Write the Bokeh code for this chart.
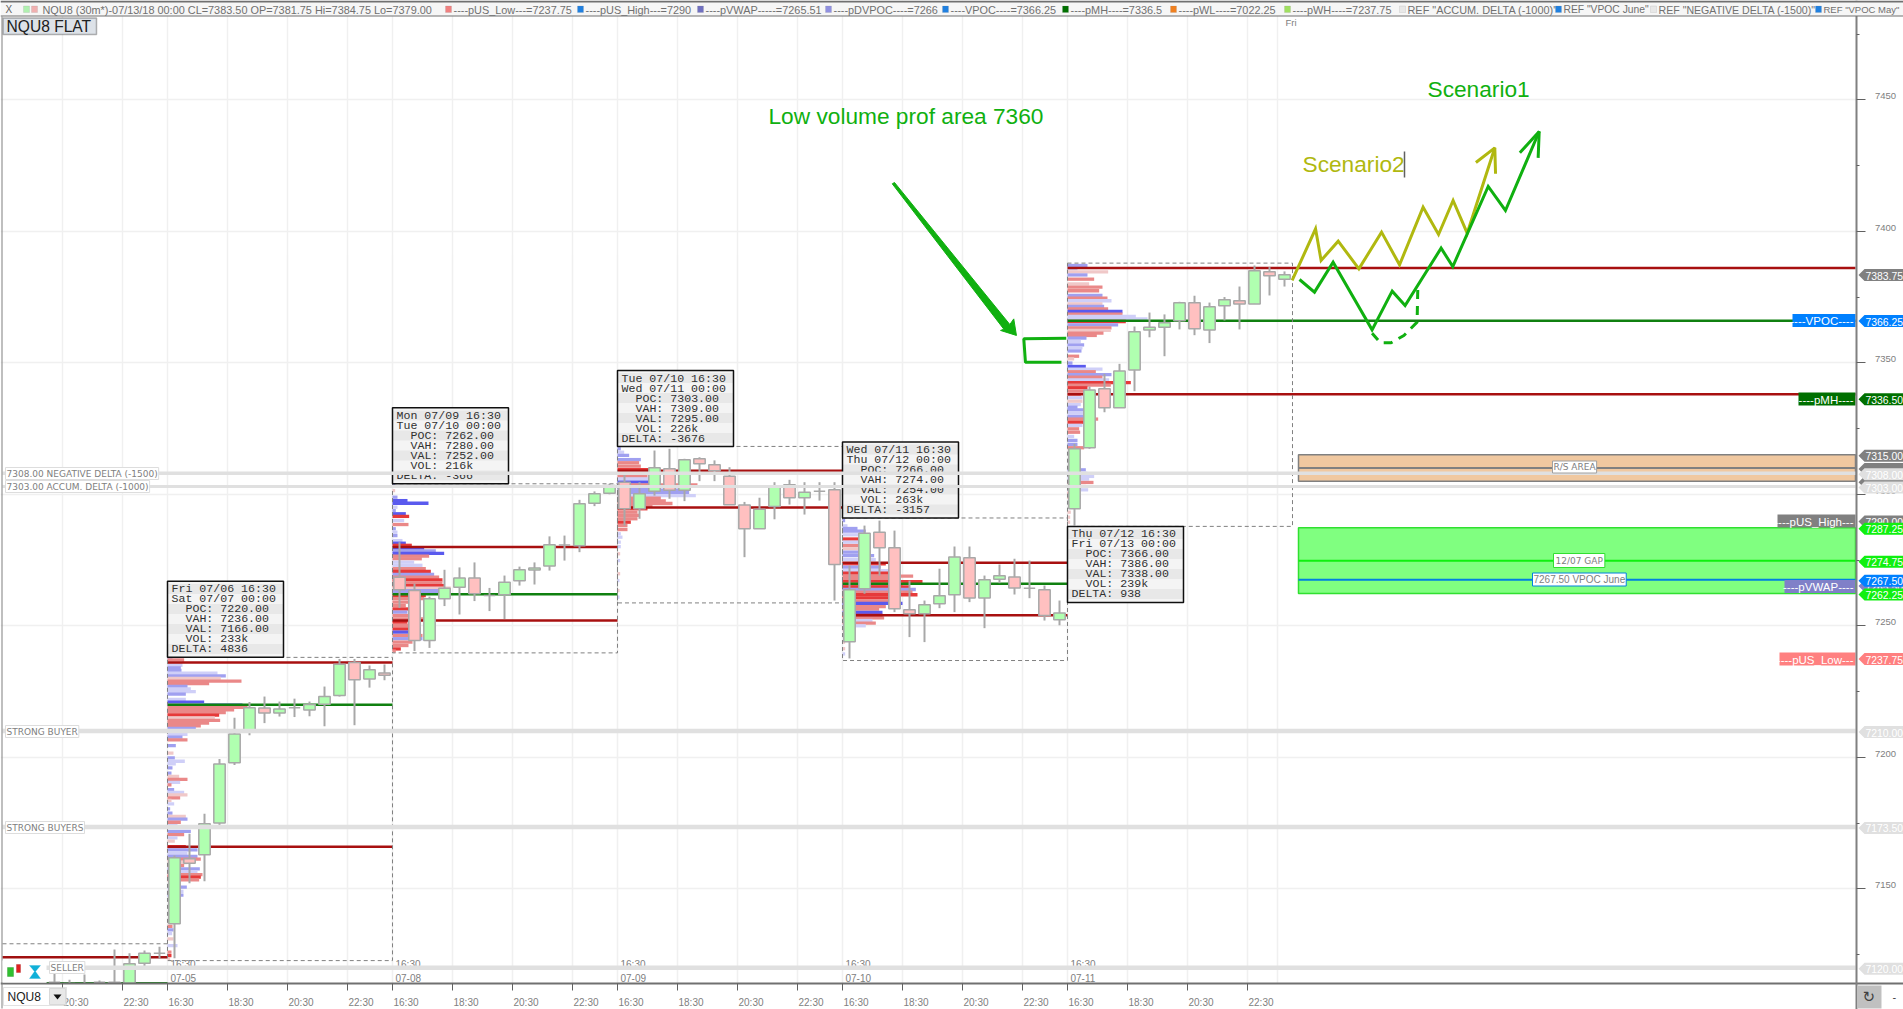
from bokeh.plotting import figure
from bokeh.models import (FixedTicker, Label, PolyAnnotation, ColumnDataSource, Range1d, LinearAxis)
from bokeh.core.properties import value
from bokeh.embed import file_html
from bokeh.resources import INLINE

# ---------- candles: one list per session, bar index 0 = session start ----------
s0_o = [7114.5, 7114.0, 7112.0, 7114.5, 7114.1, 7114.1, 7121.7, 7125.5]
s0_h = [7117.7, 7115.4, 7117.4, 7115.1, 7126.9, 7125.5, 7126.5, 7128.0]
s0_l = [7110.0, 7110.0, 7110.0, 7112.0, 7112.0, 7110.0, 7120.2, 7123.4]
s0_c = [7114.5, 7114.0, 7113.0, 7114.5, 7114.5, 7121.5, 7125.5, 7125.5]

s1_o = [7136.68,7161.4,7162.9,7175.0,7197.9,7209.6,7218.7,7216.8,7218.8,7218.0,7220.2,7223.5,7236.0,7229.8,7232.1]
s1_h = [7162.67,7170.9,7178.5,7199.4,7215.0,7221.0,7223.1,7221.2,7222.3,7221.2,7226.9,7237.4,7237.4,7234.9,7235.3]
s1_l = [7123.63,7152.15,7152.9,7173.4,7197.1,7208.4,7213.0,7215.5,7215.3,7215.6,7211.8,7223.1,7212.2,7226.5,7229.3]
s1_c = [7161.78,7159.75,7174.7,7197.5,7208.9,7218.8,7216.8,7218.4,7218.8,7220.1,7223.1,7235.4,7229.5,7233.3,7231.2]

s2_o = [7268.5,7263.4,7244.4,7260.25,7264.7,7268.2,7261.5,7261.8,7267.1,7271.2,7272.7,7280.7,7280.4,7296.6,7300.4]
s2_h = [7281.8,7266.0,7261.1,7271.3,7272.2,7274.1,7264.4,7269.1,7272.5,7274.1,7284.0,7284.3,7297.9,7301.1,7304.0]
s2_l = [7256.8,7240.4,7241.6,7257.5,7254.3,7259.4,7255.6,7252.6,7265.3,7265.7,7271.0,7274.8,7278.0,7295.5,7300.0]
s2_c = [7263.7,7244.4,7260.25,7264.3,7268.2,7262.2,7261.5,7266.6,7271.3,7272.0,7280.8,7280.7,7296.4,7300.2,7303.3]

s3_o = [7304.6,7294.5,7301.2,7309.7,7301.5,7313.5,7311.2,7306.9,7295.9,7286.9,7295.4,7303.6,7298.7,7301.2,7301.7]
s3_h = [7308.4,7304.6,7316.65,7317.3,7313.5,7314.1,7312.9,7310.3,7297.1,7298.7,7304.6,7305.5,7304.6,7304.6,7304.6]
s3_l = [7288.1,7290.7,7299.5,7298.3,7297.4,7305.0,7305.0,7296.0,7276.1,7286.9,7290.5,7296.1,7292.3,7297.6,7259.6]
s3_c = [7294.5,7300.2,7310.1,7301.5,7313.1,7311.6,7309.0,7296.0,7286.9,7294.3,7302.7,7298.7,7300.8,7301.2,7273.3]

s4_o = [7243.9,7264.1,7285.6,7279.65,7256.1,7254.6,7258.35,7261.8,7275.85,7260.6,7267.7,7268.6,7264.3,7263.7,7252.3]
s4_h = [7272.9,7288.1,7290.0,7286.2,7267.2,7259.6,7271.7,7280.15,7280.15,7269.1,7273.3,7275.5,7274.8,7265.3,7259.6]
s4_l = [7237.6,7262.2,7269.1,7255.2,7245.7,7243.8,7256.7,7255.2,7259.0,7249.1,7266.2,7261.9,7260.5,7252.0,7250.2]
s4_c = [7263.7,7285.2,7279.65,7256.45,7254.6,7258.0,7261.4,7276.2,7260.6,7267.5,7269.0,7264.4,7264.3,7253.9,7254.9]

s5_o = [7294.5,7317.7,7340.1,7332.9,7347.3,7362.5,7363.5,7366.0,7372.8,7362.5,7371.7,7373.6,7372.4,7384.6,7381.75]
s5_h = [7319.2,7341.0,7345.8,7349.6,7363.8,7369.1,7368.4,7373.2,7375.5,7372.9,7375.0,7379.0,7387.0,7386.4,7384.75]
s5_l = [7288.1,7317.3,7331.2,7332.9,7339.2,7359.7,7352.5,7362.7,7360.5,7357.5,7366.1,7362.7,7372.4,7375.6,7379.0]
s5_c = [7317.3,7339.7,7332.9,7346.9,7361.8,7363.5,7365.2,7372.8,7362.9,7371.3,7374.0,7372.4,7385.0,7383.1,7383.5]

sessions_first_bar = [0, 15, 30, 45, 60]

# ---------- volume profile rows (price, length, colour class) ----------
s1_rows = [(7238,15,'m'),(7237,50,'s'),(7236,44,'p'),(7235,45,'l'),(7234,40,'m'),(7233,42,'m'),(7232,150,'l'),(7231,175,'m'),(7230,160,'p'),(7229,222,'s'),(7228,125,'s'),(7227,60,'m'),(7226,70,'l'),(7225,85,'l'),(7224,55,'m'),(7222,55,'l'),(7221,110,'B'),(7220,225,'m'),(7219,240,'s'),(7218,200,'s'),(7217,175,'s'),(7216,155,'r'),(7215,142,'p'),(7214,158,'s'),(7213,125,'s'),(7212,100,'s'),(7211,85,'m'),
 (7208.7,60,'l'),(7207.7,45,'m'),(7206.6,60,'s'),(7204.4,25,'m'),(7201.6,18,'p'),(7199.8,22,'m'),(7198.5,52,'l'),(7197.5,25,'l'),(7196,15,'m'),(7194,12,'m'),(7192.7,35,'p'),(7191.6,60,'s'),(7190.5,38,'l'),(7189.5,12,'s'),(7187.7,20,'m'),(7186.7,50,'l'),(7185.7,60,'p'),(7184.6,38,'s'),(7183.6,12,'p'),(7182.3,20,'l'),(7180.4,8,'m'),(7178.8,15,'m'),(7177.5,55,'p'),(7176.5,60,'m'),(7175.3,40,'s'),(7174,30,'l'),(7171.8,70,'m'),(7170.6,50,'s'),(7169.4,30,'l'),(7168.1,22,'p'),(7166,55,'r'),(7164.8,90,'m'),(7163.5,60,'l'),(7162.3,90,'m'),(7161.3,100,'s'),(7160,60,'p'),(7158.8,50,'s'),(7157.6,97,'m'),(7156.3,90,'l'),(7155.4,105,'s'),(7154.4,100,'r'),(7153.4,95,'s'),(7150.6,58,'m'),(7149,48,'l'),(7147.6,48,'m'),(7135.7,15,'s'),(7134.4,18,'m'),(7133,14,'l'),(7131,18,'p'),(7128.4,30,'l'),(7125.9,12,'s'),(7124.6,12,'r'),(7123.4,8,'p')]
s2_rows = [(7303.3,8,'m'),(7301.4,8,'p'),(7298.9,15,'m'),(7297.6,45,'B'),(7296.6,108,'B'),(7295.1,15,'l'),(7293.8,10,'m'),(7292.6,40,'B'),(7291.6,50,'r'),(7290,35,'l'),(7288.5,48,'s'),(7286.9,10,'m'),(7285.6,15,'l'),(7284.3,15,'m'),(7282.4,30,'l'),(7281.4,40,'B'),(7280.6,58,'r'),(7279.5,95,'B'),(7278.5,130,'m'),(7277.5,155,'B'),(7276.5,110,'s'),(7275.5,88,'s'),(7274.2,65,'l'),(7273,90,'l'),(7271.7,100,'s'),(7270.7,115,'r'),(7269.5,125,'m'),(7268.5,140,'s'),(7267.5,150,'r'),(7266.3,150,'s'),(7265.3,155,'r'),(7264.3,175,'p'),(7263.4,140,'m'),(7262.5,170,'m'),(7261.5,100,'r'),(7260.3,95,'s'),(7259,50,'s'),(7257.7,40,'s'),(7256.4,50,'r'),(7255.2,45,'m'),(7253.9,60,'s'),(7252.6,110,'s'),(7251.4,45,'r'),(7250.1,50,'s'),(7248.8,85,'r'),(7247.6,85,'B'),(7246.3,90,'s'),(7245.1,90,'m'),(7243.8,60,'s'),(7242.5,48,'s'),(7241.2,25,'r'),(7240.4,10,'s')]
s3_rows = [(7317.3,10,'m'),(7316,20,'l'),(7314.8,35,'m'),(7313.2,70,'m'),(7312,65,'s'),(7310.7,70,'s'),(7309.4,100,'r'),(7308.2,70,'p'),(7306.9,90,'s'),(7305.9,130,'l'),(7304.6,120,'B'),(7303.6,240,'s'),(7302.6,130,'m'),(7301.6,190,'m'),(7300.6,215,'m'),(7299.5,235,'l'),(7298.5,130,'s'),(7297.5,145,'s'),(7296.5,165,'s'),(7295.5,105,'s'),(7294.5,90,'r'),(7293.2,60,'s'),(7292,65,'s'),(7290.7,60,'s'),(7289.4,40,'r'),(7288.1,30,'s'),(7286.6,30,'s'),(7285,10,'l'),(7283.7,15,'l'),(7281.8,10,'l'),(7280.1,10,'l'),(7277.4,8,'p'),(7274.8,8,'l'),(7269.8,8,'p'),(7267.2,6,'l'),(7263.4,6,'p'),(7260.9,6,'l')]
s4_rows = [(7290,8,'m'),(7288,15,'l'),(7287,45,'m'),(7286,70,'m'),(7284.6,80,'l'),(7283,50,'r'),(7281.8,60,'l'),(7280.5,50,'s'),(7279.3,60,'p'),(7278,75,'m'),(7276.7,95,'m'),(7275.2,100,'l'),(7273.6,130,'r'),(7272.3,115,'m'),(7271,140,'l'),(7270,150,'r'),(7268.9,212,'s'),(7267.9,150,'s'),(7266.8,240,'r'),(7265.8,180,'s'),(7264.8,200,'r'),(7263.8,220,'m'),(7262.8,210,'s'),(7261.8,225,'r'),(7260.6,160,'r'),(7259.5,150,'s'),(7258.5,180,'B'),(7257.3,130,'s'),(7256.3,110,'s'),(7255.1,120,'B'),(7254,120,'r'),(7253,125,'s'),(7252,90,'l'),(7251,100,'s'),(7250,70,'l'),(7248.5,30,'p'),(7246.3,15,'l'),(7243.8,8,'p'),(7241.3,8,'p'),(7239.3,8,'l')]
s5_rows = [(7387,60,'m'),(7385.7,30,'l'),(7384.6,122,'p'),(7383.4,60,'m'),(7381.8,80,'s'),(7380,65,'p'),(7378.8,105,'s'),(7377.4,95,'s'),(7375.6,105,'m'),(7374.6,120,'s'),(7373.6,132,'l'),(7372.4,105,'p'),(7371.4,110,'m'),(7370.5,122,'s'),(7369.5,165,'B'),(7368.5,165,'s'),(7367.6,205,'l'),(7366.7,240,'l'),(7365.7,175,'r'),(7364.4,152,'m'),(7363.3,132,'s'),(7362.3,130,'p'),(7361.3,108,'s'),(7360.4,88,'s'),(7359.4,57,'m'),(7358.1,40,'l'),(7356.8,50,'m'),(7355.7,45,'l'),(7354.5,42,'m'),(7352.5,35,'s'),(7351.5,20,'p'),(7349.9,15,'m'),(7348.6,55,'B'),(7347.6,105,'l'),(7346.6,85,'s'),(7345.5,132,'m'),(7344.5,105,'s'),(7343.5,125,'l'),(7342.5,190,'r'),(7341.5,130,'s'),(7340.5,60,'r'),(7339.2,60,'s'),(7338,40,'s'),(7336.7,45,'l'),(7335.4,45,'p'),(7334.1,40,'l'),(7333.1,30,'m'),(7332.1,50,'m'),(7330.9,60,'l'),(7329.6,70,'m'),(7328.6,92,'s'),(7327.4,50,'r'),(7326.2,45,'l'),(7324.9,35,'s'),(7323.6,38,'s'),(7322,20,'l'),(7320.5,30,'m'),(7319,30,'m'),(7317.7,50,'s'),(7309.3,55,'m'),(7308,60,'l'),(7306.8,80,'l'),(7305.8,65,'l'),(7304.5,78,'s'),(7303,55,'p'),(7301.7,62,'l'),(7300.4,35,'s'),(7298.9,40,'s'),(7297,15,'l'),(7293.2,10,'p'),(7291.3,8,'p'),(7289.4,8,'p')]

# ---------- session statistics ----------
s_start = ["Fri 07/06 16:30","Mon 07/09 16:30","Tue 07/10 16:30","Wed 07/11 16:30","Thu 07/12 16:30"]
s_end   = ["Sat 07/07 00:00","Tue 07/10 00:00","Wed 07/11 00:00","Thu 07/12 00:00","Fri 07/13 00:00"]
s_poc   = [7220, 7262, 7303, 7266, 7366]
s_vah   = [7236, 7280, 7309, 7274, 7386]
s_val   = [7166, 7252, 7295, 7254, 7338]
s_vol   = ["233k","216k","226k","263k","239k"]
s_delta = ["4836","-366","-3676","-3157","938"]
s_high  = [7238.0, 7304.0, 7318.2, 7291.0, 7387.9]
s_low   = [7122.7, 7239.7, 7258.7, 7236.8, 7287.8]

# ---------- levels ----------
grey_levels = [7308, 7303, 7210, 7173.5, 7120]
grey_widths = [3.5, 3, 4.5, 4.5, 4.5]

tag_values = [7383.75,7366.25,7336.50,7315.00,7310.00,7305.00,7308.00,7303.00,7290.00,7287.25,7274.75,7265.50,7267.50,7262.25,7237.75,7210.00,7173.50,7120.00]
tag_colors = ["#808080","#0080ff","#007000","#808080","#808080","#808080","#e0e0e0","#e0e0e0","#808080","#10f010","#10f010","#8080c8","#0080ff","#10f010","#ff8080","#e0e0e0","#e0e0e0","#e0e0e0"]

side_names  = ["----VPOC----","----pMH----","----pUS_High---","----pVWAP----","----pUS_Low---"]
side_prices = [7366.25, 7336.5, 7290.0, 7265.5, 7237.75]
side_colors = ["#0080ff","#007000","#808080","#8080c8","#ff8080"]

# ---------- hand drawings (bar index, price) ----------
sc2_x = [74.51,76.07,76.44,77.58,78.96,80.47,81.67,83.24,84.27,85.24,86.18,88.02]
sc2_y = [7381.30,7400.94,7388.90,7396.26,7385.74,7399.68,7387.26,7409.18,7398.79,7411.72,7399.30,7431.74]
sc2_head_x = [86.76,88.02,88.07]
sc2_head_y = [7426.17,7431.74,7421.86]
sc1_x = [75.0,76.0,77.24,79.84,81.18,82.04,84.44,85.22,87.58,88.73,90.98]
sc1_y = [7381.68,7376.87,7388.27,7362.54,7377.24,7371.79,7393.59,7386.62,7417.04,7407.92,7437.95]
sc1_head_x = [89.69,90.98,90.91]
sc1_head_y = [7429.84,7437.95,7427.94]
alt_x = [79.84,80.4,81.11,81.96,82.84,82.89]
alt_y = [7361.27,7357.6,7357.6,7360.39,7365.46,7379.4]
arrow_x = [47.85,48.0,55.69,55.95,56.13,55.07,55.29]
arrow_y = [7418.06,7418.56,7364.56,7366.7,7360.4,7362.3,7362.78]
bracket_x = [59.45,56.62,56.73,59.13]
bracket_y = [7359.35,7359.1,7350.2,7350.2]

header_segments = [
 (42,  None,      "NQU8 (30m*)-07/13/18 00:00 CL=7383.50 OP=7381.75 Hi=7384.75 Lo=7379.00", "10.9px"),
 (453, "#f08080", "----pUS_Low---=7237.75", "10.9px"),
 (585, "#2080e0", "----pUS_High---=7290", "10.9px"),
 (705, "#7070c0", "----pVWAP-----=7265.51", "10.9px"),
 (833, "#9090e0", "----pDVPOC----=7266", "10.9px"),
 (950, "#2080e0", "----VPOC----=7366.25", "10.9px"),
 (1070,"#007000", "----pMH----=7336.5", "10.9px"),
 (1178,"#f08020", "----pWL----=7022.25", "10.9px"),
 (1292,"#a0e060", "----pWH----=7237.75", "10.9px"),
 (1407,"#e8e8e8", 'REF "ACCUM. DELTA (-1000)"', "10.9px"),
 (1563,"#2080e0", 'REF "VPOC June"', "10.3px"),
 (1658,"#e8e8e8", 'REF "NEGATIVE DELTA (-1500)"', "10.6px"),
 (1823,"#2080e0", 'REF "VPOC May"', "9.5px"),
]

# ---------- scales: reference pixel <-> data ----------
BAR_PX = 15.0
PT_PX = 2.63
def ix(px): return (px - 174.0) / BAR_PX
def pr(py): return 7350.0 - (py - 362.3) / PT_PX
LEFT = -0.467   # bar slot left edge relative to its centre

p = figure(width=1903, height=1009, x_range=Range1d(ix(0), ix(1903)), y_range=Range1d(pr(1009), pr(0)),
           x_axis_location="below", y_axis_location="right", output_backend="svg", toolbar_location=None,
           min_border_left=0, min_border_right=0, min_border_top=0, min_border_bottom=0,
           outline_line_color=None, background_fill_color="white", border_fill_color="white")

# axes sit at fixed places; captions sit beside their ticks, so the tick marks are minor ticks
ticks = []; names = []
for base, off, name in [(-15,8,"20:30"),(-15,12,"22:30")]:
    ticks.append(base + off + LEFT); names.append(name)
for b in sessions_first_bar:
    for off, name in [(0,"16:30"),(4,"18:30"),(8,"20:30"),(12,"22:30")]:
        ticks.append(b + off + LEFT); names.append(name)
xa = p.xaxis[0]
xa.fixed_location = pr(983.3)
xa.ticker = FixedTicker(ticks=[], minor_ticks=ticks)
xa.major_tick_line_color = None; xa.major_tick_in = 0; xa.major_tick_out = 0
xa.minor_tick_in = 0; xa.minor_tick_out = 7; xa.minor_tick_line_color = "#606060"
xa.axis_line_color = "#707070"; xa.axis_line_width = 2

y_major = [7150,7200,7250,7300,7350,7400,7450]
y_minor = [7125,7175,7225,7275,7325,7375,7425,7475]
Y_SHIFT = 3.6 / PT_PX
y_label_ticks = [v + Y_SHIFT for v in y_major]
ya = p.yaxis[0]
ya.fixed_location = ix(1855.5)
ya.ticker = FixedTicker(ticks=y_label_ticks, minor_ticks=y_major)
ya.major_label_overrides = dict(zip(y_label_ticks, [str(v) for v in y_major]))
ya.major_label_text_font = "Liberation Sans"; ya.major_label_text_font_size = "9.5px"; ya.major_label_text_color = "#808080"
ya.major_label_standoff = 10
ya.major_tick_line_color = None; ya.major_tick_in = 0; ya.major_tick_out = 0
ya.minor_tick_in = 0; ya.minor_tick_out = 9; ya.minor_tick_line_color = "#606060"
ya.axis_line_color = "#808080"; ya.axis_line_width = 2
yb = LinearAxis(fixed_location=ix(1855.5), ticker=FixedTicker(ticks=[], minor_ticks=y_minor), axis_line_color=None,
                major_tick_line_color=None, minor_tick_in=0, minor_tick_out=3, minor_tick_line_color="#606060")
p.add_layout(yb, "right")

p.xgrid.ticker = FixedTicker(ticks=ticks + [60 + 14 + LEFT])
p.xgrid.grid_line_color = "#f0f0f0"; p.xgrid.grid_line_width = 1.5
p.ygrid.ticker = FixedTicker(ticks=y_major)
p.ygrid.grid_line_color = "#f0f0f0"; p.ygrid.grid_line_width = 1.5

# white margins beyond the axes hide the grid
p.quad(left=ix(1856), right=ix(1903), top=pr(0), bottom=pr(1009), fill_color="white", line_color=None)
p.quad(left=ix(0), right=ix(1903), top=pr(983), bottom=pr(1009), fill_color="white", line_color=None)

# zones on the right
Z_L = ix(1298)
p.quad(left=Z_L, right=ix(1855), top=7315, bottom=7305, fill_color="#f0c8a0", line_color="#808080", line_width=1.5)
p.segment(x0=Z_L, x1=ix(1855), y0=7310, y1=7310, line_color="#808080", line_width=2)
p.quad(left=Z_L, right=ix(1855), top=7287.25, bottom=7262.25, fill_color="#80ff80", line_color="#30e030", line_width=1.5)
p.segment(x0=Z_L, x1=ix(1855), y0=7274.75, y1=7274.75, line_color="#10f010", line_width=2)
p.segment(x0=Z_L, x1=ix(1855), y0=7267.5, y1=7267.5, line_color="#0080e0", line_width=2)

# profiles
COL = {'l':'#cfcff8','m':'#a0a0f0','B':'#5a5aee','p':'#f0c8c8','s':'#ea8888','r':'#e63a3a'}
for b, rows in zip(sessions_first_bar, [s1_rows,s2_rows,s3_rows,s4_rows,s5_rows]):
    L = b + LEFT
    p.hbar(y=[r[0] for r in rows], left=L, right=[L + r[1]/45.0 for r in rows], height=1.25,
           fill_color=[COL[r[2]] for r in rows], line_color=None)

# previous session remainder
p.segment(x0=ix(2), x1=LEFT, y0=7124, y1=7124, line_color="#a01010", line_width=2.5)
p.segment(x0=ix(46), x1=LEFT, y0=7114.1, y1=7114.1, line_color="#108010", line_width=2.5)

# value area / POC lines and dashed boxes
n = len(sessions_first_bar)
for i, b in enumerate(sessions_first_bar):
    L = b + LEFT
    R = L + 15 if i < n-1 else ix(1855)
    p.segment(x0=[L,L], x1=[R,R], y0=[s_vah[i],s_val[i]], y1=[s_vah[i],s_val[i]], line_color="#a81010", line_width=2.5)
    p.segment(x0=L, x1=R, y0=s_poc[i], y1=s_poc[i], line_color="#108010", line_width=2.5)
    p.quad(left=L, right=L+15, top=s_high[i], bottom=s_low[i], fill_color=None, line_color="#808080", line_width=1, line_dash="4 3")
p.segment(x0=ix(2), x1=LEFT, y0=7129.1, y1=7129.1, line_color="#808080", line_width=1, line_dash="4 3")

# session-open time labels under grey line and date labels
for b, d in zip(sessions_first_bar, ["07-05","07-08","07-09","07-10","07-11"]):
    p.text(x=[b+LEFT], y=[pr(964)], text=["16:30"], text_font=value("Liberation Sans"), text_font_size="10px", text_color="#808080", x_offset=3, text_baseline="middle")
    p.text(x=[b+LEFT], y=[pr(977)], text=[d], text_font=value("Liberation Sans"), text_font_size="10px", text_color="#808080", x_offset=3, text_baseline="middle")

# candles
def candles(first, o, h, l, c):
    xs = [first+k for k in range(len(o))]
    src = ColumnDataSource(dict(x=xs, h=h, l=l, t=[max(a,b) for a,b in zip(o,c)], b=[min(a,b) for a,b in zip(o,c)],
                                f=["#b0ffb0" if cc >= oo else "#ffc0c0" for oo,cc in zip(o,c)]))
    p.segment(x0="x", x1="x", y0="l", y1="h", source=src, line_color="#a8a8a8", line_width=2)
    p.vbar(x="x", width=0.76, top="t", bottom="b", source=src, fill_color="f", line_color="#a8a8a8", line_width=1.5)
candles(-8, s0_o, s0_h, s0_l, s0_c)
for b, (o,h,l,c) in zip(sessions_first_bar, [(s1_o,s1_h,s1_l,s1_c),(s2_o,s2_h,s2_l,s2_c),(s3_o,s3_h,s3_l,s3_c),(s4_o,s4_h,s4_l,s4_c),(s5_o,s5_h,s5_l,s5_c)]):
    candles(b, o, h, l, c)
# the chart stops at the axis: hide what falls below it again
p.quad(left=ix(0), right=ix(1856), top=pr(983), bottom=pr(1009), fill_color="white", line_color=None)

# time captions beside the axis ticks
p.text(x=ticks, y=[pr(1002)]*len(ticks), text=names, text_font=value("Liberation Sans"), text_font_size="10px",
       text_color="#808080", text_align="left", text_baseline="middle", x_offset=1)

# session info boxes
ROW = 10.0 / PT_PX
BOX_H = 76.0 / PT_PX
W = 116 / BAR_PX
anchor_bottom = [s_high[0], s_high[1], s_high[2], s_high[3], s_low[4] - BOX_H]
for i, b in enumerate(sessions_first_bar):
    L = b + LEFT
    bot = anchor_bottom[i]
    top = bot + BOX_H
    p.quad(left=L, right=L+W, top=top, bottom=bot, fill_color="#f4f4f4", line_color=None)
    lines = [s_start[i], s_end[i], f"POC: {s_poc[i]}.00", f"VAH: {s_vah[i]}.00", f"VAL: {s_val[i]}.00", f"VOL: {s_vol[i]}", f"DELTA: {s_delta[i]}"]
    ys = [top - 7.6/PT_PX - k*ROW for k in range(7)]
    p.quad(left=L, right=L+W, top=[y+ROW/2 for y in ys[::2]], bottom=[y-ROW/2 for y in ys[::2]], fill_color="#e8e8e8", line_color=None)
    p.text(x=L, y=ys, text=lines, x_offset=[4,4,18,18,18,18,4], text_font=value("Liberation Mono"), text_font_size="11.6px",
           text_color="#303030", text_baseline="middle")
    p.quad(left=L, right=L+W, top=top, bottom=bot, fill_color=None, line_color="#101010", line_width=1.5)

# grey reference lines
for lv, w in zip(grey_levels, grey_widths):
    p.segment(x0=ix(2), x1=ix(1855), y0=lv, y1=lv, line_color="#e0e0e0", line_width=w)

# drawings
GREEN = "#10b010"; OLIVE = "#b0b810"
p.line(sc2_x, sc2_y, line_color=OLIVE, line_width=3, line_join="miter")
p.line(sc2_head_x, sc2_head_y, line_color=OLIVE, line_width=3)
p.line(sc1_x, sc1_y, line_color=GREEN, line_width=3, line_join="miter")
p.line(sc1_head_x, sc1_head_y, line_color=GREEN, line_width=3)
p.line(alt_x, alt_y, line_color=GREEN, line_width=3, line_dash="9 7")
p.patch(arrow_x, arrow_y, fill_color=GREEN, line_color=GREEN, line_width=1)
p.line(bracket_x, bracket_y, line_color=GREEN, line_width=3)

def ann(px, py, text, **kw):
    opts = dict(x=ix(px), y=pr(py), text=text, text_baseline="middle", text_align="left",
                text_font="Liberation Sans", text_font_size="11px", text_color="#808080")
    opts.update(kw)
    p.add_layout(Label(**opts))

ann(768, 115, "Low volume prof area 7360", text_font_size="22.7px", text_color=GREEN)
ann(1427, 88, "Scenario1", text_font_size="22.7px", text_color=GREEN)
ann(1302, 163, "Scenario2", text_font_size="22.7px", text_color=OLIVE)
p.segment(x0=ix(1404), x1=ix(1404), y0=pr(177), y1=pr(151), line_color="#606060", line_width=1.5)

# level captions on the left and zone captions
box = dict(background_fill_color="white", border_line_color="#dddddd", border_line_width=1, padding=1, text_font="DejaVu Sans", text_font_size="9px")
ann(5, 473, "7308.00 NEGATIVE DELTA (-1500)", **box)
ann(5, 486, "7303.00 ACCUM. DELTA (-1000)", **box)
ann(5, 731, "STRONG BUYER", **box)
ann(5, 827, "STRONG BUYERS", **box)
ann(49, 967, "SELLER", **box)
ann(1552, 466.5, "R/S AREA", background_fill_color="white", border_line_color="#a0a0a0", padding=1, text_font="DejaVu Sans", text_font_size="9px")
ann(1553, 560, "12/07 GAP", background_fill_color="white", border_line_color="#30e030", padding=2, text_font="DejaVu Sans", text_font_size="9px")
ann(1532, 579, "7267.50 VPOC June", background_fill_color="white", border_line_color="#0080e0", padding=1, text_font="Liberation Sans", text_font_size="10px")
ann(1285, 22, "Fri", text_font_size="9.5px")

# side captions
side_widths = [63, 57, 78, 71, 76]
side_nudge = [0.5, 0.7, 0.4, 1.5, 1.0]
for nm, v, c, wid, nd in zip(side_names, side_prices, side_colors, side_widths, side_nudge):
    y = 362.3 + (7350 - v) * PT_PX + nd
    p.quad(left=ix(1855-wid), right=ix(1855), top=pr(y-6.5), bottom=pr(y+6.5), fill_color=c, line_color=None)
    ann(1853, y+0.5, nm, text_align="right", text_color="white", text_font_size="11.5px")

# price tags beyond the axis
for v, c in zip(tag_values, tag_colors):
    y = 362.3 + (7350 - v) * PT_PX + 1
    p.add_layout(PolyAnnotation(xs=[ix(1858), ix(1864), ix(1903), ix(1903), ix(1864)],
                                ys=[pr(y), pr(y-6), pr(y-6), pr(y+6), pr(y+6)],
                                fill_color=c, fill_alpha=1, line_color=None))
    if v not in (7310.0, 7305.0):
        ann(1865, y+0.5, f"{v:.2f}", text_color="white", text_font_size="10.4px")

# header strip
p.add_layout(PolyAnnotation(xs=[ix(0), ix(1903), ix(1903), ix(0)], ys=[pr(0), pr(0), pr(15.5), pr(15.5)], fill_color="#f6f6f6", fill_alpha=1, line_color=None))
p.add_layout(PolyAnnotation(xs=[ix(0), ix(1903), ix(1903), ix(0)], ys=[pr(0), pr(0), pr(2), pr(2)], fill_color="#707070", fill_alpha=1, line_color=None))
p.add_layout(PolyAnnotation(xs=[ix(0), ix(1903), ix(1903), ix(0)], ys=[pr(15), pr(15), pr(16), pr(16)], fill_color="#707070", fill_alpha=1, line_color=None))
def square(x, c):
    p.add_layout(PolyAnnotation(xs=[ix(x), ix(x+6), ix(x+6), ix(x)], ys=[pr(5.5), pr(5.5), pr(12), pr(12)], fill_color=c, fill_alpha=1, line_color="#808080", line_width=0.5))
ann(5, 9, "X", text_font_size="10px", text_color="#606060")
square(23, "#b0f0b0"); square(31, "#f0b0b0")
for x, c, t, fs in header_segments:
    if c: square(x-8, c)
    ann(x, 9, t, text_font_size=fs, text_color="#707070")

# NQU8 FLAT caption
p.add_layout(PolyAnnotation(xs=[ix(2.5), ix(96), ix(96), ix(2.5)], ys=[pr(17.5), pr(17.5), pr(34), pr(34)], fill_color="#dde2e8", fill_alpha=1, line_color="#101010", line_width=1.5))
ann(6, 26, "NQU8 FLAT", text_font_size="15.6px", text_color="#202020")

# left border
p.add_layout(PolyAnnotation(xs=[ix(1), ix(2), ix(2), ix(1)], ys=[pr(16), pr(16), pr(1008), pr(1008)], fill_color="#808080", fill_alpha=1, line_color=None))

# toolbar icons bottom-left
p.add_layout(PolyAnnotation(xs=[ix(2), ix(46), ix(46), ix(2)], ys=[pr(960), pr(960), pr(982), pr(982)], fill_color="white", fill_alpha=1, line_color=None))
p.add_layout(PolyAnnotation(xs=[ix(7), ix(13), ix(13), ix(7)], ys=[pr(967), pr(967), pr(976), pr(976)], fill_color="#30c030", fill_alpha=1, line_color="#108010"))
p.add_layout(PolyAnnotation(xs=[ix(16), ix(20), ix(20), ix(16)], ys=[pr(964), pr(964), pr(972), pr(972)], fill_color="#e02020", fill_alpha=1, line_color="#a01010"))
p.add_layout(PolyAnnotation(xs=[ix(29), ix(40), ix(35), ix(40), ix(29), ix(34)], ys=[pr(965), pr(965), pr(971), pr(978), pr(978), pr(971)], fill_color="#10b0d8", fill_alpha=1, line_color="#10b0d8"))

# symbol selector and refresh button below the axis
p.add_layout(PolyAnnotation(xs=[ix(3), ix(66), ix(66), ix(3)], ys=[pr(987), pr(987), pr(1005), pr(1005)], fill_color="white", fill_alpha=1, line_color="#a0a0a0"))
ann(7, 996, "NQU8", text_color="#202020", text_font_size="12px")
p.add_layout(PolyAnnotation(xs=[ix(49), ix(65), ix(65), ix(49)], ys=[pr(988), pr(988), pr(1004), pr(1004)], fill_color="#e8e8e8", fill_alpha=1, line_color="#a0a0a0"))
p.add_layout(PolyAnnotation(xs=[ix(53), ix(61), ix(57)], ys=[pr(994), pr(994), pr(999)], fill_color="#101010", fill_alpha=1, line_color=None))
p.add_layout(PolyAnnotation(xs=[ix(1857), ix(1881), ix(1881), ix(1857)], ys=[pr(985), pr(985), pr(1008), pr(1008)], fill_color="#c0c0c0", fill_alpha=1, line_color=None))
ann(1862, 996, "↻", text_color="#404040", text_font_size="15px", text_font="DejaVu Sans")
ann(1892, 996, "-", text_color="#404040", text_font_size="11px")

open("out.html", "w").write(file_html(p, INLINE))
